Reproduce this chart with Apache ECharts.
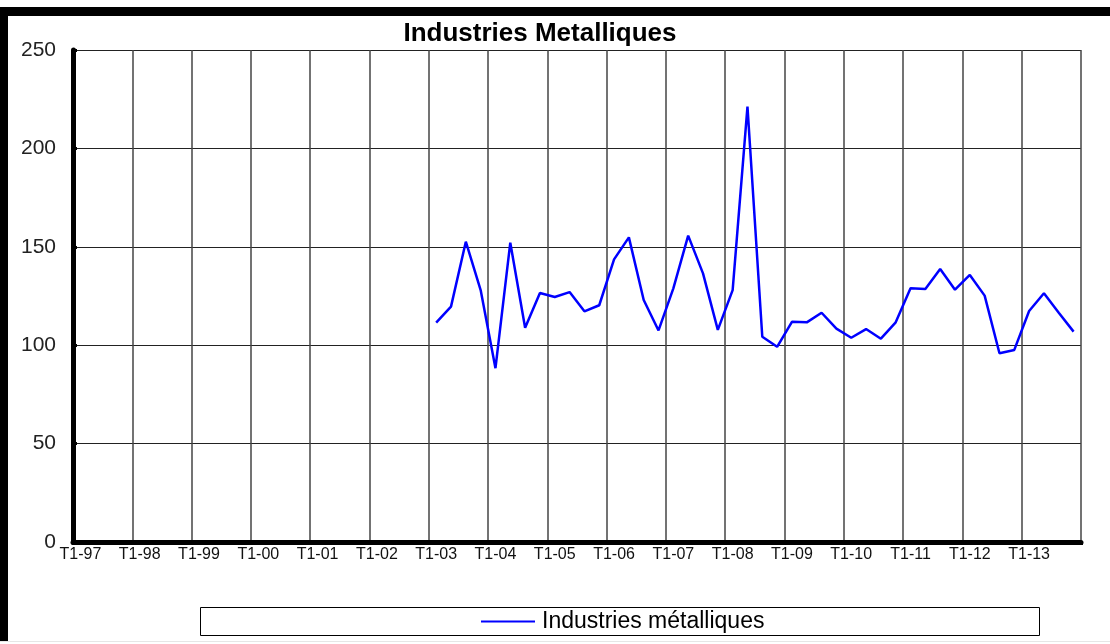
<!DOCTYPE html>
<html>
<head>
<meta charset="utf-8">
<script src="https://cdn.jsdelivr.net/npm/echarts@6/dist/echarts.min.js"></script>
<style>
html,body{margin:0;padding:0;background:#fff;}
#chart{width:1110px;height:644px;}
</style>
</head>
<body>
<div id="chart"></div>
<script>
// Tick labels / categories
const years = ['97','98','99','00','01','02','03','04','05','06','07','08','09','10','11','12','13'];
const quarters = ['T1','T2','T3','T4'];
const categories = [];
years.forEach(y => quarters.forEach(q => categories.push(q + '-' + y)));

// Series: Industries métalliques, from T1-03 to T4-13
const seriesName = 'Industries métalliques';
const firstQuarter = 'T1-03';
const values = [
  111.5, 119.6, 152.6, 128.0, 88.3, 152.1, 108.9, 126.5,
  124.5, 127.0, 117.2, 120.3, 143.6, 154.8, 123.0, 107.5,
  128.9, 155.7, 136.5, 107.8, 128.0, 221.2, 104.3, 99.2,
  111.9, 111.6, 116.5, 108.4, 103.8, 108.2, 103.3, 111.6,
  128.9, 128.6, 138.7, 128.2, 135.7, 125.2, 95.9, 97.6,
  117.4, 126.4, 116.5, 106.9
];
const yTicks = [0, 50, 100, 150, 200, 250];

const startIdx = categories.indexOf(firstQuarter);
const seriesData = categories.map((c, i) => {
  const k = i - startIdx;
  return (k >= 0 && k < values.length) ? values[k] : null;
});

const chart = echarts.init(document.getElementById('chart'), null, {renderer: 'canvas'});
chart.setOption({
  animation: false,
  backgroundColor: '#ffffff',
  title: {
    text: 'Industries Metalliques',
    left: 535,
    textAlign: 'center',
    top: 16,
    textStyle: {fontFamily: 'Liberation Sans, Arial, sans-serif', fontSize: 26, fontWeight: 'bold', color: '#000'}
  },
  grid: {left: 73, right: 29, top: 50, bottom: 102, containLabel: false},
  xAxis: {
    type: 'category',
    data: categories,
    boundaryGap: true,
    axisLine: {show: true, lineStyle: {color: '#000', width: 5}},
    axisTick: {show: true, interval: 3, length: 3, lineStyle: {color: '#000', width: 3}},
    axisLabel: {interval: 3, margin: 5, color: '#111', fontFamily: 'Liberation Sans, Arial, sans-serif', fontSize: 16},
    splitLine: {show: true, interval: 3, lineStyle: {color: '#444', width: 1.5}}
  },
  yAxis: {
    type: 'value',
    min: yTicks[0],
    max: yTicks[yTicks.length - 1],
    interval: 50,
    axisLine: {show: true, lineStyle: {color: '#000', width: 5}},
    axisTick: {show: true, inside: true, length: 4, lineStyle: {color: '#000', width: 3}},
    axisLabel: {margin: 17, color: '#222', fontFamily: 'Liberation Sans, Arial, sans-serif', fontSize: 21},
    splitLine: {show: true, lineStyle: {color: '#222', width: 1}}
  },
  legend: {
    data: [seriesName],
    left: 476,
    top: 605,
    icon: 'rect',
    itemWidth: 54,
    itemHeight: 2,
    itemGap: 10,
    textStyle: {fontFamily: 'Liberation Sans, Arial, sans-serif', fontSize: 23, color: '#000', padding: [0, 0, 0, 2]}
  },
  series: [{
    name: seriesName,
    type: 'line',
    data: seriesData,
    symbol: 'none',
    connectNulls: false,
    lineStyle: {color: '#0000ff', width: 2.5},
    itemStyle: {color: '#0000ff'},
    z: 5
  }],
  graphic: [
    {type: 'rect', left: 0, top: 7, shape: {width: 1110, height: 9}, style: {fill: '#000'}},
    {type: 'rect', left: 0, top: 7, shape: {width: 8, height: 634}, style: {fill: '#000'}},
    {type: 'rect', left: 198, top: 605, shape: {width: 839, height: 28}, style: {fill: 'none', stroke: '#000', lineWidth: 1}, z: -1},
    {type: 'rect', left: 0, top: 641, shape: {width: 1110, height: 1}, style: {fill: '#e6e6e6'}}
  ]
});
</script>
</body>
</html>
